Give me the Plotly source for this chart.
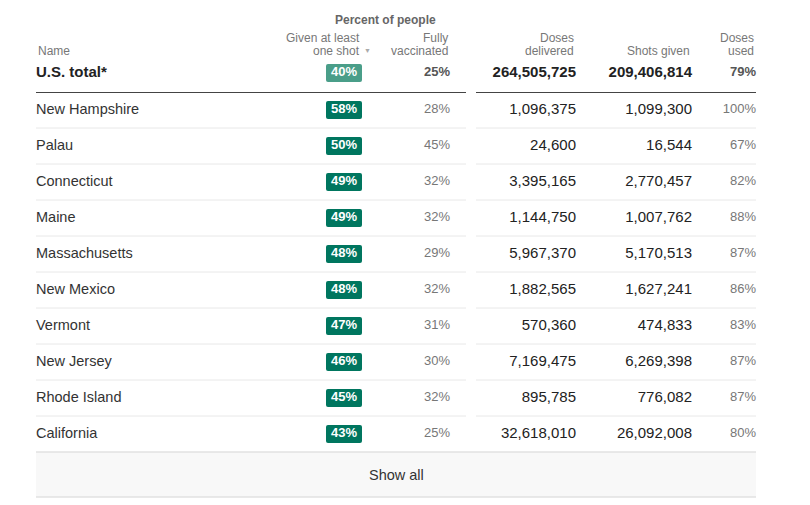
import plotly.graph_objects as go

names = ["New Hampshire", "Palau", "Connecticut", "Maine", "Massachusetts",
         "New Mexico", "Vermont", "New Jersey", "Rhode Island", "California"]
one_shot = [58, 50, 49, 49, 48, 48, 47, 46, 45, 43]
fully = [28, 45, 32, 32, 29, 32, 31, 30, 32, 25]
delivered = [1096375, 24600, 3395165, 1144750, 5967370, 1882565, 570360, 7169475, 895785, 32618010]
shots = [1099300, 16544, 2770457, 1007762, 5170513, 1627241, 474833, 6269398, 776082, 26092008]
used = [100, 67, 82, 88, 87, 86, 83, 87, 87, 80]

total_name = "U.S. total*"
total_one_shot = 40
total_fully = 25
total_delivered = 264505725
total_shots = 209406814
total_used = 79

FONT = "Liberation Sans"
W, H = 810, 505
PAD = 8  # default page body margin
X_NAME, X_BADGE0, X_BADGE1 = 36, 326, 362
X_FULLY, X_DELIV, X_SHOTS, X_USED, X_END = 450, 576, 692, 756, 756
Y_TOTAL, Y_ROW0, STEP = 73, 110, 36

ys = [Y_ROW0 + i * STEP for i in range(len(names))]

fig = go.Figure()
shapes = []
annotations = []

def ann(x, y, text, anchor="right", size=12, color="#777", bold=False):
    annotations.append(dict(
        x=x, y=y, xref="x", yref="y", text=(f"<b>{text}</b>" if bold else text),
        showarrow=False, xanchor=anchor, yanchor="middle",
        font=dict(family=FONT, size=size, color=color)))

# headers
ann(385, 20, "Percent of people", anchor="center", size=12, color="#666", bold=True)
ann(X_NAME, 51, "Name", anchor="left")
ann(X_BADGE1, 38, "Given at least")
ann(X_BADGE1, 51, "one shot")
ann(373, 50, "▼", size=7, color="#aaa")
ann(X_FULLY, 38, "Fully")
ann(X_FULLY, 51, "vaccinated")
ann(X_DELIV, 38, "Doses")
ann(X_DELIV, 51, "delivered")
ann(X_SHOTS, 51, "Shots given")
ann(X_USED, 38, "Doses")
ann(X_USED, 51, "used")

def badge(y, color):
    r = 2
    x0, x1, y0, y1 = X_BADGE0, X_BADGE1, y - 9, y + 9
    path = (f"M {x0+r},{y0} L {x1-r},{y0} Q {x1},{y0} {x1},{y0+r} L {x1},{y1-r} "
            f"Q {x1},{y1} {x1-r},{y1} L {x0+r},{y1} Q {x0},{y1} {x0},{y1-r} "
            f"L {x0},{y0+r} Q {x0},{y0} {x0+r},{y0} Z")
    shapes.append(dict(type="path", path=path, xref="x", yref="y",
                       fillcolor=color, line=dict(width=0), layer="below"))

def hline(y, color, width=1):
    for a, b in [(X_NAME, 466), (476, X_END)]:
        shapes.append(dict(type="line", x0=a, x1=b, y0=y, y1=y, xref="x", yref="y",
                           line=dict(color=color, width=width)))

badge(Y_TOTAL, "#4a9e89")
for y in ys:
    badge(y, "#00765f")

hline(92.5, "#444", 1.2)
for y in ys[:-1]:
    hline(y + 18, "#e8e8e8", 1)

# show all box
shapes.append(dict(type="rect", x0=X_NAME, x1=X_END, y0=452, y1=497, xref="x", yref="y",
                   fillcolor="#f8f8f8", line=dict(width=0), layer="below"))
for yy in (452, 497):
    shapes.append(dict(type="line", x0=X_NAME, x1=X_END, y0=yy, y1=yy, xref="x", yref="y",
                       line=dict(color="#e2e2e2", width=1.5)))
ann(396, 475, "Show all", anchor="center", size=14.5, color="#333")

def text_trace(xs, yv, texts, pos, size, color, bold=False):
    fig.add_trace(go.Scatter(
        x=xs, y=yv, mode="text", text=[f"<b>{t}</b>" if bold else t for t in texts],
        textposition=pos, textfont=dict(family=FONT, size=size, color=color),
        hoverinfo="skip", showlegend=False))

n = len(names)
fmt = lambda v: f"{v:,}"
# totals
text_trace([X_NAME], [Y_TOTAL], [total_name], "middle right", 15, "#222", True)
text_trace([(X_BADGE0 + X_BADGE1) / 2], [Y_TOTAL], [f"{total_one_shot}%"], "middle center", 13, "white", True)
text_trace([X_FULLY], [Y_TOTAL], [f"{total_fully}%"], "middle left", 13, "#555", True)
text_trace([X_DELIV], [Y_TOTAL], [fmt(total_delivered)], "middle left", 15, "#222", True)
text_trace([X_SHOTS], [Y_TOTAL], [fmt(total_shots)], "middle left", 15, "#222", True)
text_trace([X_USED], [Y_TOTAL], [f"{total_used}%"], "middle left", 13, "#555", True)
# rows
text_trace([X_NAME] * n, ys, names, "middle right", 14.5, "#333")
text_trace([(X_BADGE0 + X_BADGE1) / 2] * n, ys, [f"{v}%" for v in one_shot], "middle center", 13, "white", True)
text_trace([X_FULLY] * n, ys, [f"{v}%" for v in fully], "middle left", 13, "#777")
text_trace([X_DELIV] * n, ys, [fmt(v) for v in delivered], "middle left", 15, "#222")
text_trace([X_SHOTS] * n, ys, [fmt(v) for v in shots], "middle left", 15, "#222")
text_trace([X_USED] * n, ys, [f"{v}%" for v in used], "middle left", 13, "#777")

fig.update_layout(
    width=W - PAD, height=H - PAD, margin=dict(l=0, r=0, t=0, b=0),
    paper_bgcolor="white", plot_bgcolor="white",
    xaxis=dict(range=[PAD, W], visible=False, fixedrange=True),
    yaxis=dict(range=[H, PAD], visible=False, fixedrange=True),
    shapes=shapes, annotations=annotations,
)
fig.write_html("out.html", config={"displayModeBar": False})
